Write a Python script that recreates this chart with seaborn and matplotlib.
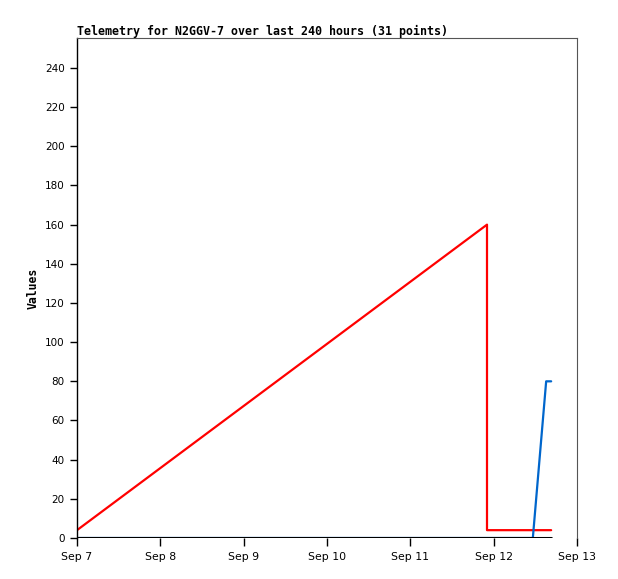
import matplotlib
matplotlib.use("Agg")
import matplotlib.pyplot as plt
import seaborn as sns
import pandas as pd

# Data (days after Sep 7, value)
red_days = [0.0, 4.92, 4.92, 5.69]
red_vals = [4, 160, 4, 4]
blue_days = [0.0, 5.47, 5.63, 5.69]
blue_vals = [0, 0, 80, 80]
black_days = [0.0, 5.69]
black_vals = [0, 0]
tick_labels = ["Sep 7", "Sep 8", "Sep 9", "Sep 10", "Sep 11", "Sep 12", "Sep 13"]
title = "Telemetry for N2GGV-7 over last 240 hours (31 points)"

start = pd.Timestamp("2023-09-07")
def mk(days, vals, name):
    return pd.DataFrame({"time": [start + pd.Timedelta(days=d) for d in days],
                         "value": vals, "series": name})

sns.set_style("white")
plt.rcParams["text.color"] = "black"
plt.rcParams["xtick.color"] = "black"
plt.rcParams["ytick.color"] = "black"
plt.rcParams["axes.labelcolor"] = "black"

fig = plt.figure(figsize=(6.18, 5.79), dpi=100)
ax = fig.add_axes([77/618, 41/579, 500/618, 500/579])

sns.lineplot(data=mk(red_days, red_vals, "red"), x="time", y="value", color="#ff0000",
             lw=1.6, ax=ax, estimator=None, sort=False)
sns.lineplot(data=mk(blue_days, blue_vals, "blue"), x="time", y="value", color="#0066cc",
             lw=1.6, ax=ax, estimator=None, sort=False)
sns.lineplot(data=mk(black_days, black_vals, "black"), x="time", y="value", color="black",
             lw=2.2, ax=ax, estimator=None, sort=False)

ticks = [start + pd.Timedelta(days=i) for i in range(len(tick_labels))]
ax.set_xlim(ticks[0], ticks[-1])
ax.set_xticks(ticks)
ax.set_xticklabels(tick_labels, fontsize=7.8, family="DejaVu Sans")
ax.set_ylim(0, 255.3)
ax.set_yticks(range(0, 241, 20))
ax.tick_params(axis="y", labelsize=7.5, length=5, width=1, direction="out", left=True, pad=4,
               labelcolor="black", color="black")
ax.tick_params(axis="x", labelsize=7.8, length=6, width=1, direction="out", bottom=True, pad=4,
               labelcolor="black", color="black")
ax.set_xlabel("")
ax.set_ylabel("Values", family="DejaVu Sans Mono", fontweight="bold", fontsize=8.3,
              labelpad=4, color="black")

ax.spines["left"].set_color("black")
ax.spines["left"].set_linewidth(1)
ax.spines["bottom"].set_visible(False)
ax.spines["top"].set_color("#555555")
ax.spines["top"].set_linewidth(0.8)
ax.spines["right"].set_color("#555555")
ax.spines["right"].set_linewidth(0.8)
ax.grid(False)

ax.set_title(title, loc="left", family="DejaVu Sans Mono", fontweight="bold", fontsize=8.4,
             pad=2, color="black")
if ax.get_legend() is not None:
    ax.get_legend().remove()

fig.savefig("out.png", dpi=100)
